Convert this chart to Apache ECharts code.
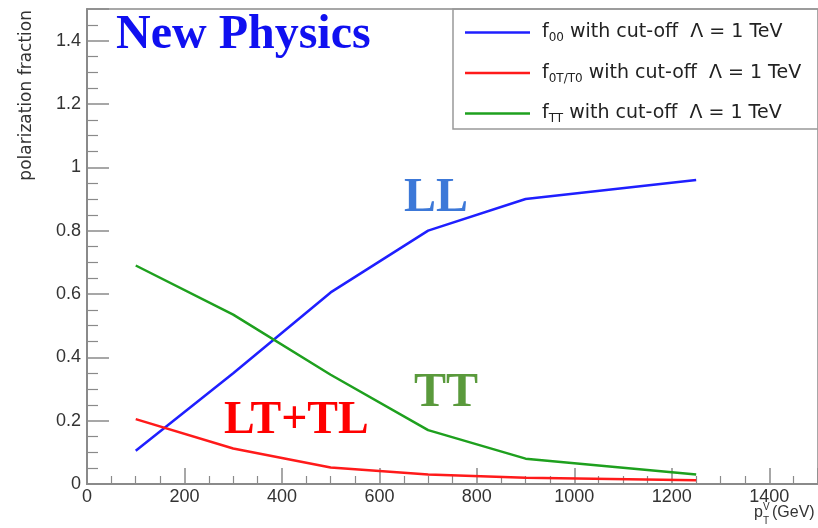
<!DOCTYPE html>
<html><head><meta charset="utf-8">
<script src="https://cdn.jsdelivr.net/npm/echarts@6/dist/echarts.min.js"></script>
<style>html,body{margin:0;padding:0;background:#fff}#c{width:818px;height:528px}</style>
</head><body><div id="c"></div>
<script>
const ptValues = [100, 300, 500, 700, 900, 1250];
const f00 = [0.105, 0.35, 0.605, 0.80, 0.90, 0.96];
const f0T = [0.205, 0.112, 0.052, 0.030, 0.020, 0.012];
const fTT = [0.69, 0.535, 0.345, 0.17, 0.08, 0.03];
const seriesNames = ['f00', 'f0T', 'fTT'];
const legendLabels = {
  f00: '{f|f}{sub|00}{t| with cut-off  Λ = 1 TeV}',
  f0T: '{f|f}{sub|0T/T0}{t| with cut-off  Λ = 1 TeV}',
  fTT: '{f|f}{sub|TT}{t| with cut-off  Λ = 1 TeV}'
};

const chart = echarts.init(document.getElementById('c'));
const pair = arr => ptValues.map((x, i) => [x, arr[i]]);
const font = 'Liberation Sans, Arial, sans-serif';
const wfont = '"DejaVu Sans", sans-serif';
const axisCol = '#8a8a8a';
const txtCol = '#333';

chart.setOption({
  animation: false,
  grid: { left: 87, right: -3, top: 9, bottom: 44, show: true, borderColor: axisCol, borderWidth: 1.5 },
  xAxis: {
    type: 'value', min: 0, max: 1500, interval: 200,
    axisLine: { lineStyle: { color: axisCol, width: 2 } },
    axisTick: { inside: true, length: 16, lineStyle: { color: axisCol, width: 1.5 } },
    minorTick: { show: true, splitNumber: 4, length: 8, lineStyle: { color: axisCol, width: 1.2 } },
    splitLine: { show: false },
    axisLabel: { showMaxLabel: false, color: txtCol, fontSize: 18, fontFamily: font, margin: 4, formatter: v => String(v) }
  },
  yAxis: {
    type: 'value', min: 0, max: 1.5, interval: 0.2,
    axisLine: { lineStyle: { color: axisCol, width: 2 } },
    axisTick: { inside: true, length: 22, lineStyle: { color: axisCol, width: 1.5 } },
    minorTick: { show: true, splitNumber: 4, length: 11, lineStyle: { color: axisCol, width: 1.2 } },
    splitLine: { show: false },
    axisLabel: { showMaxLabel: false, color: txtCol, fontSize: 18, fontFamily: font, margin: 6, formatter: v => String(v) }
  },
  legend: {
    orient: 'vertical', left: 453, top: 9,
    padding: [12, 200, 4, 12],
    borderColor: '#999', borderWidth: 1.5,
    icon: 'rect',
    itemWidth: 65, itemHeight: 2.5, itemGap: 17.5,
    data: seriesNames,
    formatter: n => legendLabels[n],
    textStyle: {
      fontFamily: wfont, color: '#222', fontSize: 19,
      rich: {
        f: { fontSize: 19, fontFamily: wfont, color: '#222', lineHeight: 24, padding: [0, 0, 0, 7] },
        sub: { fontSize: 12, fontFamily: wfont, color: '#222', padding: [11, 0, 0, 0], lineHeight: 24 },
        t: { fontSize: 19, fontFamily: wfont, color: '#222', lineHeight: 24 }
      }
    }
  },
  series: [
    { name: 'f00', type: 'line', data: pair(f00), symbol: 'none', color: '#1f1fff', lineStyle: { width: 2.5, color: '#1f1fff' } },
    { name: 'f0T', type: 'line', data: pair(f0T), symbol: 'none', color: '#ff1a1a', lineStyle: { width: 2.5, color: '#ff1a1a' } },
    { name: 'fTT', type: 'line', data: pair(fTT), symbol: 'none', color: '#1ea01e', lineStyle: { width: 2.5, color: '#1ea01e' } }
  ],
  graphic: [
    { type: 'text', left: 116, top: 12, style: { text: 'New Physics', font: 'bold 48px "Liberation Serif", "Times New Roman", serif', fill: '#1010f0' } },
    { type: 'text', left: 404, top: 175, style: { text: 'LL', font: 'bold 48px "Liberation Serif", serif', fill: '#3c78d8' } },
    { type: 'text', left: 414, top: 370, style: { text: 'TT', font: 'bold 48px "Liberation Serif", serif', fill: '#5a9a3c' } },
    { type: 'text', left: 224, top: 398, style: { text: 'LT+TL', font: 'bold 46px "Liberation Serif", serif', fill: '#ff0000' } },
    { type: 'text', left: 18, top: 10, rotation: Math.PI / 2, style: { text: 'polarization fraction', font: '17px "DejaVu Sans", sans-serif', fill: txtCol } },
    { type: 'text', left: 754, top: 505, style: { text: 'p', font: '16px "Liberation Sans", Arial, sans-serif', fill: txtCol } },
    { type: 'text', left: 763, top: 502, style: { text: 'V', font: '10px "Liberation Sans", Arial, sans-serif', fill: txtCol } },
    { type: 'text', left: 763, top: 516, style: { text: 'T', font: '10px "Liberation Sans", Arial, sans-serif', fill: txtCol } },
    { type: 'text', left: 772, top: 505, style: { text: '(GeV)', font: '16px "Liberation Sans", Arial, sans-serif', fill: txtCol } }
  ]
});
</script></body></html>
